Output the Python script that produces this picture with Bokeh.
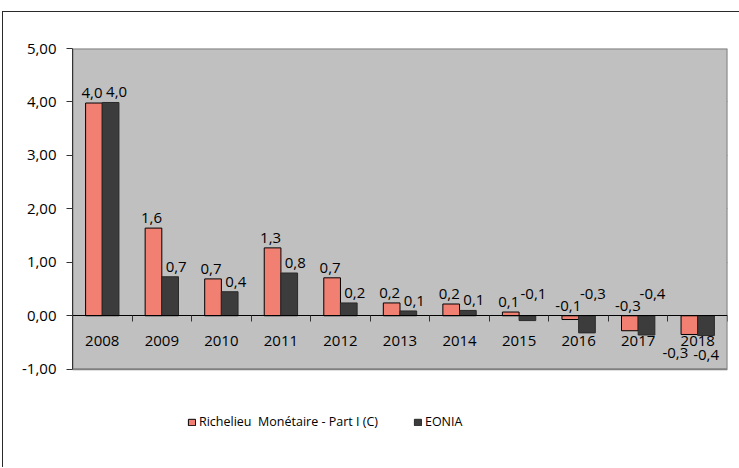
from bokeh.plotting import figure
from bokeh.models import FixedTicker, Legend, LegendItem, ColumnDataSource
from bokeh.core.properties import value
from bokeh.embed import file_html
from bokeh.resources import INLINE

years = ["2008", "2009", "2010", "2011", "2012", "2013", "2014", "2015", "2016", "2017", "2018"]
richelieu = [3.98, 1.64, 0.69, 1.27, 0.71, 0.24, 0.22, 0.07, -0.07, -0.28, -0.35]
eonia = [3.99, 0.73, 0.45, 0.80, 0.24, 0.09, 0.10, -0.09, -0.32, -0.36, -0.37]
richelieu_labels = ["4,0", "1,6", "0,7", "1,3", "0,7", "0,2", "0,2", "0,1", "-0,1", "-0,3", "-0,3"]
eonia_labels = ["4,0", "0,7", "0,4", "0,8", "0,2", "0,1", "0,1", "-0,1", "-0,3", "-0,4", "-0,4"]
y_ticks = [-1, 0, 1, 2, 3, 4, 5]
y_tick_labels = ["-1,00", "0,00", "1,00", "2,00", "3,00", "4,00", "5,00"]
series_names = ["Richelieu  Monétaire - Part I (C)", "EONIA"]

FONT = "Open Sans"
FS = "15px"
PINK = "#F28072"
DARK = "#3C3C3C"

n = len(years)
xs = list(range(n))
bw = 0.28
xr = [x - bw / 2 for x in xs]
xe = [x + bw / 2 for x in xs]
ymin, ymax = y_ticks[0], y_ticks[-1]

p = figure(width=737, height=456, x_range=(-0.5, n - 0.5), y_range=(-2.67, ymax),
           output_backend="svg", toolbar_location=None,
           min_border_left=69, min_border_top=36, min_border_right=13, min_border_bottom=10)
p.margin = (11, 0, 0, 2)
p.styles = {"border-left": "1px solid #2a2a2a", "border-top": "1px solid #2a2a2a"}
p.background_fill_color = "white"
p.border_fill_color = "white"
p.outline_line_color = None

# plot area (grey panel between -1 and 5)
p.quad(left=-0.5, right=n - 0.5, bottom=ymin, top=ymax, fill_color="#C0C0C0",
       line_color="#808080", line_width=2)

src = ColumnDataSource(dict(xr=xr, xe=xe, r=richelieu, e=eonia))

r1 = p.vbar(x="xr", top="r", bottom=0, width=bw, source=src,
            fill_color=PINK, line_color="black", line_width=1)
r2 = p.vbar(x="xe", top="e", bottom=0, width=bw, source=src,
            fill_color=DARK, line_color="#2a2a2a", line_width=1)

# data labels
last = n - 1
for vals, labels, xpos, xoff, negoff, botoff in [(richelieu, richelieu_labels, xr, -2, 5, -14),
                                                 (eonia, eonia_labels, xe, 6, 17, 0)]:
    pos_i = [i for i, v in enumerate(vals) if v >= 0]
    neg_i = [i for i, v in enumerate(vals) if v < 0 and i != last]
    bot_i = [i for i, v in enumerate(vals) if v < 0 and i == last]
    p.text(x=[xpos[i] for i in pos_i], y=[vals[i] for i in pos_i], text=[labels[i] for i in pos_i],
           text_align="center", text_baseline="bottom", y_offset=-5, x_offset=xoff,
           text_font=value(FONT), text_font_size=FS, text_color="black")
    p.text(x=[xpos[i] for i in neg_i], y=[0 for i in neg_i], text=[labels[i] for i in neg_i],
           text_align="center", text_baseline="bottom", y_offset=-negoff, x_offset=xoff,
           text_font=value(FONT), text_font_size=FS, text_color="black")
    p.text(x=[xpos[i] for i in bot_i], y=[vals[i] for i in bot_i], text=[labels[i] for i in bot_i],
           text_align="center", text_baseline="top", y_offset=14, x_offset=botoff,
           text_font=value(FONT), text_font_size=FS, text_color="black")

# axes
p.xaxis.fixed_location = 0
p.xaxis.ticker = FixedTicker(ticks=xs, minor_ticks=[x - 0.5 for x in xs] + [n - 0.5])
p.xaxis.major_label_overrides = {i: y for i, y in enumerate(years)}
p.xaxis.major_tick_out = 0
p.xaxis.major_tick_in = 0
p.xaxis.minor_tick_out = 6
p.xaxis.minor_tick_in = 0
p.xaxis.minor_tick_line_color = "#333333"
p.xaxis.axis_line_color = "black"
p.xaxis.major_label_standoff = 14
p.xaxis.major_label_text_font = FONT
p.xaxis.major_label_text_font_size = FS
p.xaxis.major_label_text_color = "black"

p.yaxis.ticker = FixedTicker(ticks=y_ticks, minor_ticks=[])
p.yaxis.bounds = (ymin, ymax)
p.yaxis.major_label_overrides = {t: l for t, l in zip(y_ticks, y_tick_labels)}
p.yaxis.major_tick_out = 6
p.yaxis.major_tick_in = 0
p.yaxis.major_tick_line_color = "#333333"
p.yaxis.axis_line_color = "#333333"
p.yaxis.major_label_standoff = 10
p.yaxis.major_label_text_font = FONT
p.yaxis.major_label_text_font_size = FS
p.yaxis.major_label_text_color = "black"

p.xgrid.visible = False
p.ygrid.ticker = FixedTicker(ticks=[1, 2, 3, 4])
p.ygrid.grid_line_color = "#333333"
p.ygrid.grid_line_width = 1

legend = Legend(items=[LegendItem(label=series_names[0], renderers=[r1]),
                       LegendItem(label=series_names[1], renderers=[r2])],
                orientation="horizontal", location=(115, 28),
                glyph_width=9, glyph_height=8, label_standoff=3, spacing=35,
                padding=0, margin=0, border_line_color=None, background_fill_alpha=0,
                label_text_font=FONT, label_text_font_size="12.5px", label_text_color="black")
p.add_layout(legend, "center")

open("out.html", "w").write(file_html(p, INLINE))
